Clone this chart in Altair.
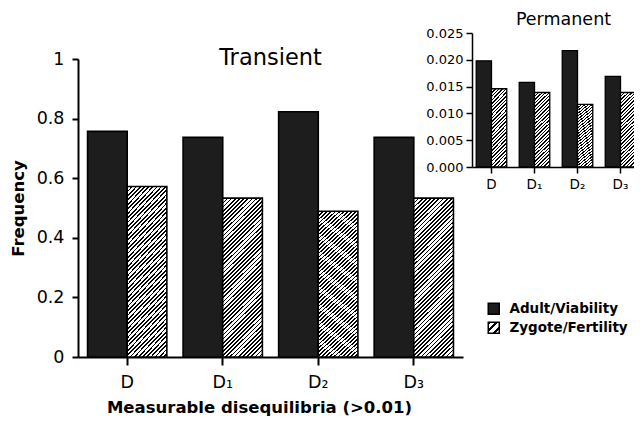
import json
import altair as alt
import pandas as pd

categories = ["D", "D₁", "D₂", "D₃"]
series = ["Adult/Viability", "Zygote/Fertility"]
transient_adult = [0.757, 0.737, 0.823, 0.737]
transient_zygote = [0.572, 0.533, 0.489, 0.533]
permanent_adult = [0.0198, 0.0158, 0.0217, 0.0169]
permanent_zygote = [0.0146, 0.0139, 0.0117, 0.0139]
main_ticks = [0, 0.2, 0.4, 0.6, 0.8, 1]
inset_ticks = [0, 0.005, 0.01, 0.015, 0.02, 0.025]

FONT = "DejaVu Sans"
DARK = "#1d1d1d"


def hatch(dx, dy, n, frac=0.42):
    stops = []
    for k in range(n):
        a, b, c = k / n, (k + frac) / n, (k + 1) / n
        stops += [
            {"offset": round(a, 5), "color": "#000000"},
            {"offset": round(b, 5), "color": "#000000"},
            {"offset": round(b, 5), "color": "#ffffff"},
            {"offset": round(c, 5), "color": "#ffffff"},
        ]
    return json.dumps({"gradient": "linear", "x1": 0, "y1": 0, "x2": dx, "y2": dy, "stops": stops})


hatch_main = hatch(0.290, 1.175, 48)
hatch_inset = hatch(0.231, 1.154, 26)
hatch_square = hatch(1, 1, 3)

df_t = pd.DataFrame({
    "cat": categories * 2,
    "series": [series[0]] * 4 + [series[1]] * 4,
    "value": transient_adult + transient_zygote,
})
df_p = pd.DataFrame({
    "cat": categories * 2,
    "series": [series[0]] * 4 + [series[1]] * 4,
    "value": permanent_adult + permanent_zygote,
})
df_l = pd.DataFrame({"series": series})

main = alt.Chart(df_t).mark_bar(stroke="black", strokeWidth=1.6).encode(
    x=alt.X("cat:N", sort=categories,
            scale=alt.Scale(domain=categories, range=[0, 385], paddingInner=0.17, paddingOuter=0.1),
            axis=alt.Axis(title="Measurable disequilibria (>0.01)", orient="bottom", labelAngle=0,
                          labelFontSize=17.5, labelPadding=8, tickSize=8, tickWidth=2, domainWidth=2,
                          titleFontSize=16.5, titleFontWeight="bold", titleX=181, titleY=55,
                          titleBaseline="alphabetic", titleAlign="center")),
    xOffset=alt.XOffset("series:N", sort=series, scale=alt.Scale(domain=series)),
    y=alt.Y("value:Q", scale=alt.Scale(domain=[0, 1], range=[329, 31], nice=False),
            axis=alt.Axis(values=main_ticks, format="~g", title="Frequency", orient="left",
                          labelFontSize=17.5, labelPadding=8, tickSize=6, tickWidth=2, domainWidth=2,
                          titleFontSize=16.5, titleFontWeight="bold", titlePadding=10, grid=False)),
    fill=alt.Fill("series:N", scale=alt.Scale(domain=series, range=[DARK, alt.ExprRef(hatch_main)]),
                  legend=None),
)

inset = alt.Chart(df_p).mark_bar(stroke="black", strokeWidth=1.3).encode(
    x=alt.X("cat:N", sort=categories,
            scale=alt.Scale(domain=categories, range=[394, 562], paddingInner=0.29, paddingOuter=0.098),
            axis=alt.Axis(orient="bottom", offset=-190, labelAngle=0, labelFontSize=13.5, labelPadding=4,
                          tickSize=6, tickWidth=1.5, domainWidth=1.5,
                          title="Transient", titleFontSize=22.5, titleFontWeight="normal",
                          titleX=192, titleY=-103, titleBaseline="alphabetic", titleAlign="center")),
    xOffset=alt.XOffset("series:N", sort=series, scale=alt.Scale(domain=series)),
    y=alt.Y("value:Q", scale=alt.Scale(domain=[0, 0.025], range=[139, 5], nice=False),
            axis=alt.Axis(orient="left", offset=-394, values=inset_ticks, format=".3f",
                          labelFontSize=13, labelPadding=3, tickSize=6, tickWidth=1.5, domainWidth=1.5,
                          grid=False, title="Permanent", titleAngle=0, titleFontSize=17.5,
                          titleFontWeight="normal", titleX=91, titleY=-4,
                          titleBaseline="alphabetic", titleAlign="center")),
    fill=alt.Fill("series:N", scale=alt.Scale(domain=series, range=[DARK, alt.ExprRef(hatch_inset)]),
                  legend=None),
)

legend_layer = alt.Chart(df_l).mark_square(opacity=0).encode(
    fill=alt.Fill("series:N",
                  scale=alt.Scale(domain=series, range=[DARK, alt.ExprRef(hatch_square)]),
                  legend=alt.Legend(title=None, orient="none", legendX=409, legendY=274,
                                    symbolType="square", symbolSize=121, symbolStrokeColor="black",
                                    symbolStrokeWidth=1.5, symbolOpacity=1, labelFontSize=13.5,
                                    labelFontWeight="bold", labelColor="black", labelFont=FONT,
                                    rowPadding=1, labelOffset=9)),
)

chart = alt.layer(main, inset, legend_layer).resolve_scale(
    x="independent", y="independent", xOffset="independent", fill="independent"
).properties(
    width=554, height=329, autosize="none",
    padding={"left": 70, "top": 20, "right": 2, "bottom": 61},
    background="white",
).configure_view(stroke=None).configure_axis(
    labelFont=FONT, titleFont=FONT, labelColor="black", titleColor="black",
    domainColor="black", tickColor="black",
).configure_legend(labelFont=FONT)

chart.save("out.html", embed_options={"renderer": "svg", "actions": False})
